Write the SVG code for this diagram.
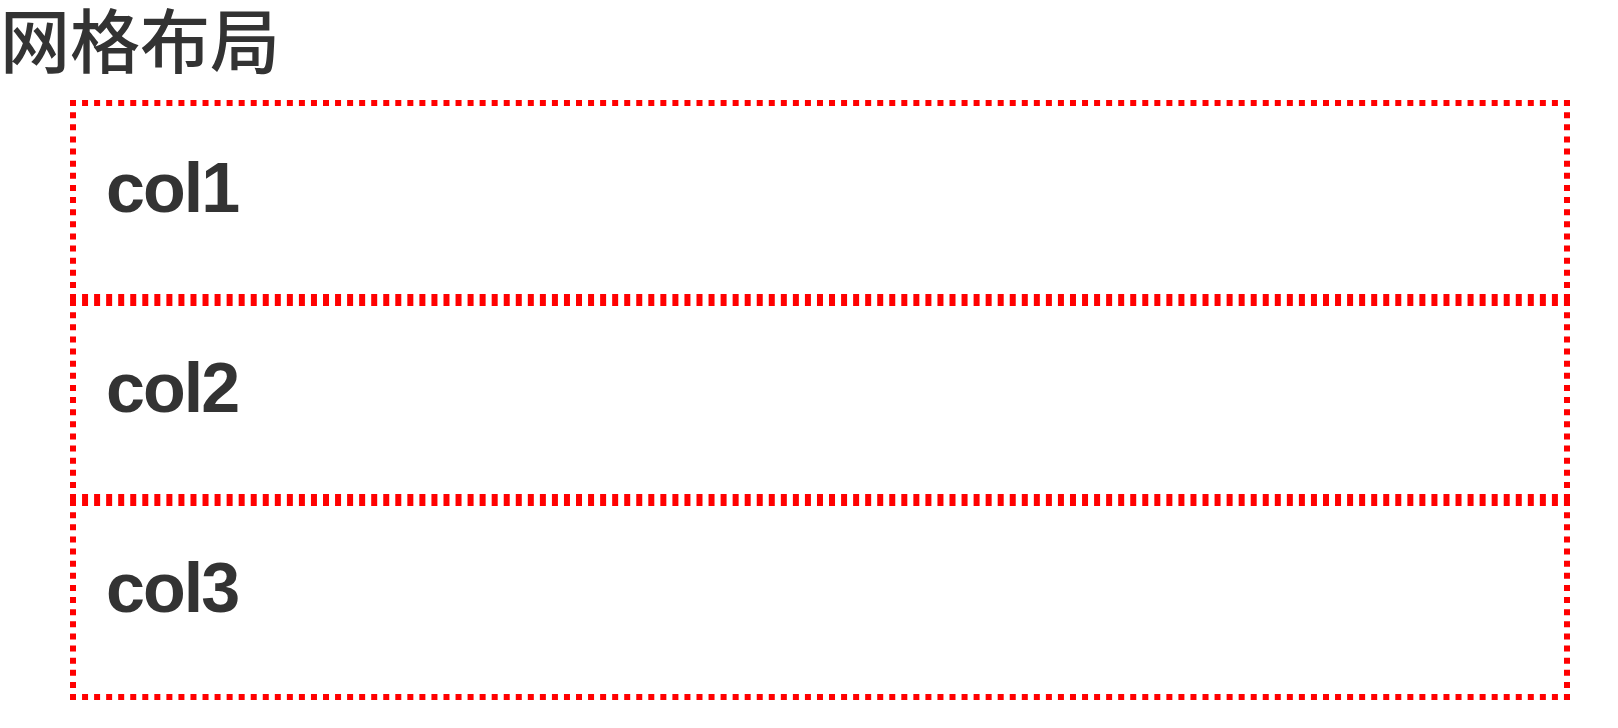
<svg xmlns="http://www.w3.org/2000/svg" width="1618" height="728" viewBox="0 0 1618 728">
<style>
.h{stroke:#ff0000;stroke-width:6;stroke-dasharray:6 6.048;fill:none}
.v{stroke:#ff0000;stroke-width:6;stroke-dasharray:6 6.125;fill:none}
.lbl{font-family:"Liberation Sans",Arial,sans-serif;font-weight:bold;font-size:70px;letter-spacing:-2px;fill:#333333}
.title{font-family:"Noto Sans CJK SC","Noto Sans",sans-serif;font-size:70px;font-weight:500;fill:#333333}
</style>
<rect width="1618" height="728" fill="#ffffff"/>
<text id="title" class="title" x="0" y="68">网格布局</text>
<g id="col1">
<line class="h" x1="70" y1="103" x2="1570" y2="103"/>
<line class="h" x1="70" y1="297" x2="1570" y2="297"/>
<line class="v" x1="73" y1="100" x2="73" y2="300"/>
<line class="v" x1="1567" y1="100" x2="1567" y2="300"/>
<text class="lbl" x="106" y="212">col1</text>
</g>
<g id="col2">
<line class="h" x1="70" y1="303" x2="1570" y2="303"/>
<line class="h" x1="70" y1="497" x2="1570" y2="497"/>
<line class="v" x1="73" y1="300" x2="73" y2="500"/>
<line class="v" x1="1567" y1="300" x2="1567" y2="500"/>
<text class="lbl" x="106" y="412">col2</text>
</g>
<g id="col3">
<line class="h" x1="70" y1="503" x2="1570" y2="503"/>
<line class="h" x1="70" y1="697" x2="1570" y2="697"/>
<line class="v" x1="73" y1="500" x2="73" y2="700"/>
<line class="v" x1="1567" y1="500" x2="1567" y2="700"/>
<text class="lbl" x="106" y="612">col3</text>
</g>
</svg>
